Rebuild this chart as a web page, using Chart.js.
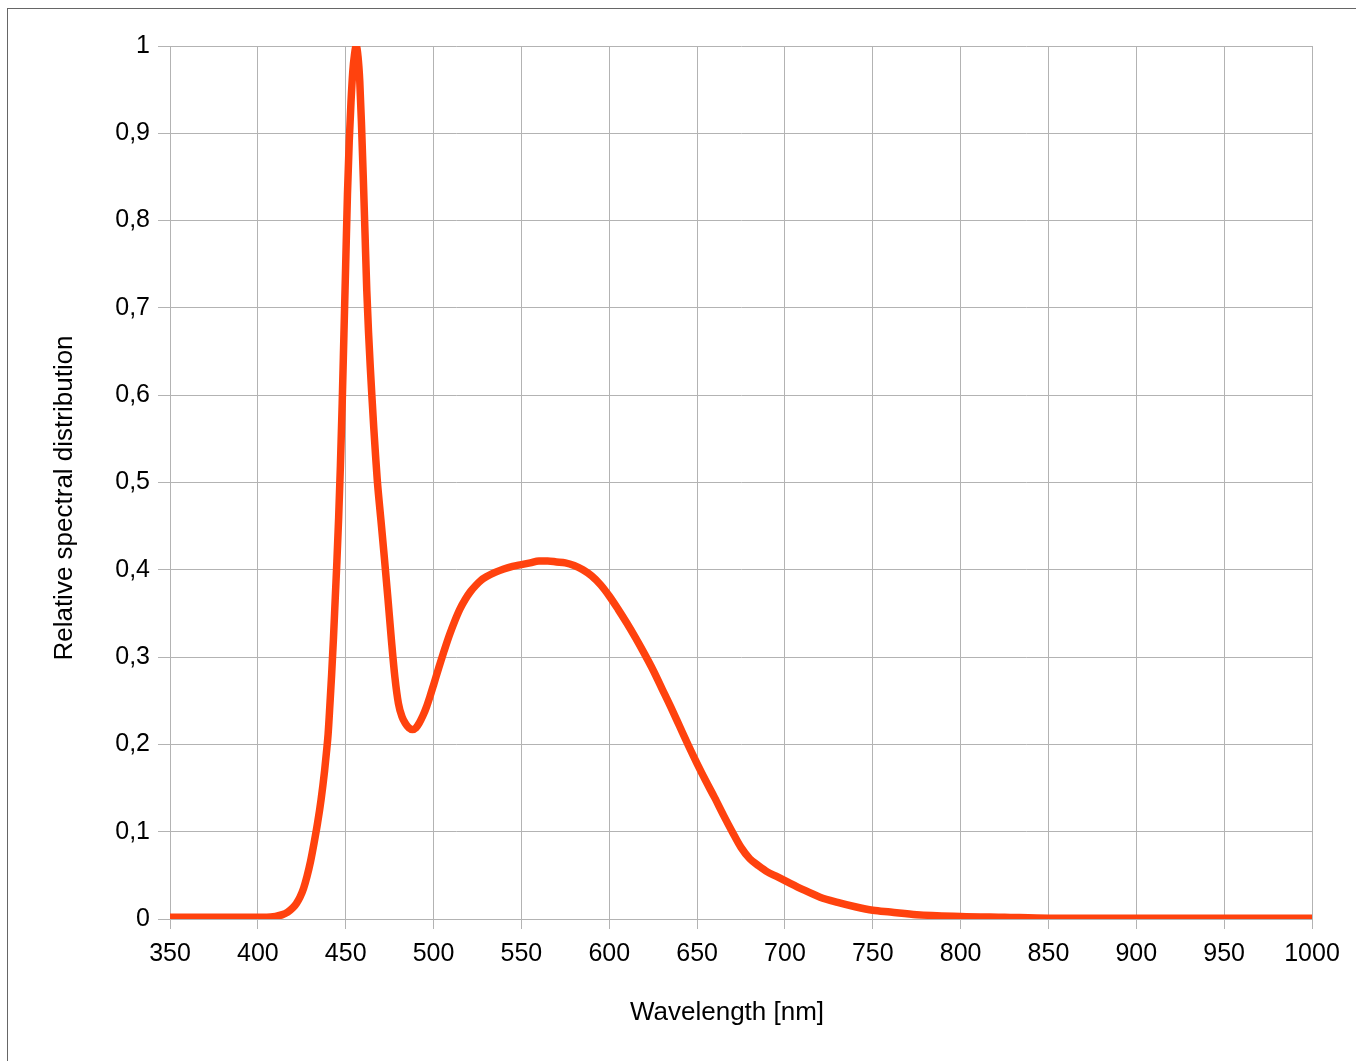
<!DOCTYPE html>
<html>
<head>
<meta charset="utf-8">
<script src="https://cdn.jsdelivr.net/npm/chart.js@4.4.1/dist/chart.umd.min.js"></script>
<style>
    html, body { margin: 0; padding: 0; background: #fff; overflow: hidden; }
    #wrap { position: relative; width: 1356px; height: 1061px; }
    #frame { position: absolute; left: 7px; top: 8px; width: 1400px; height: 1100px;
             border-left: 1px solid #666; border-top: 1px solid #666; }
    #chartSpd { position: absolute; left: 0; top: 0; }
</style>
</head>
<body>
<div id="wrap">
    <div id="frame"></div>
    <canvas id="chartSpd" width="1356" height="1061"></canvas>
</div>
<script>
// Valores (longitud de onda en nm, distribución relativa)
const wavelengths = [
    350, 360, 370, 380, 390, 400, 405, 410, 414, 417, 420, 422, 424, 426, 428, 430, 432, 434, 436, 438,
    439, 440, 441, 442, 443, 444, 445, 446, 447, 448, 449, 450, 451, 452, 453, 454, 455, 456, 457, 458,
    459, 460, 461, 462, 463, 464, 465, 466, 467, 468, 470, 472, 474, 476, 478, 480, 482, 484, 486, 488,
    490, 492, 494, 496, 498, 500, 503, 506, 509, 512, 515, 518, 521, 524, 527, 530, 535, 540, 545, 550,
    555, 560, 565, 570, 575, 580, 585, 590, 595, 600, 605, 610, 615, 620, 625, 630, 635, 640, 645,
    650, 655, 660, 665, 670, 675, 680, 685, 690, 695, 700, 710, 720, 730, 740, 750, 760, 775, 800,
    825, 850, 900, 950, 1000
];
const relativeValues = [
    0.002, 0.002, 0.002, 0.002, 0.002, 0.002, 0.002, 0.003, 0.005, 0.008, 0.013, 0.018, 0.025, 0.035, 0.049, 0.066, 0.087, 0.11, 0.137, 0.17,
    0.19, 0.212, 0.245, 0.28, 0.32, 0.365, 0.41, 0.46, 0.52, 0.59, 0.67, 0.75, 0.83, 0.89, 0.935, 0.97, 0.99, 1.0, 0.988, 0.96,
    0.91, 0.85, 0.785, 0.72, 0.672, 0.632, 0.596, 0.562, 0.531, 0.502, 0.458, 0.414, 0.368, 0.32, 0.277, 0.247, 0.232, 0.224, 0.219, 0.217,
    0.219, 0.225, 0.233, 0.243, 0.255, 0.268, 0.288, 0.307, 0.325, 0.341, 0.355, 0.366, 0.375, 0.382, 0.388, 0.392, 0.397, 0.401, 0.404, 0.406,
    0.408, 0.41, 0.41, 0.409, 0.408, 0.405, 0.4, 0.393, 0.383, 0.37, 0.355, 0.339, 0.322, 0.304, 0.285, 0.264, 0.243, 0.221, 0.199,
    0.178, 0.158, 0.139, 0.119, 0.1, 0.082, 0.069, 0.061, 0.054, 0.049, 0.044, 0.034, 0.025, 0.019, 0.014, 0.01, 0.008, 0.005, 0.003,
    0.002, 0.001, 0.001, 0.001, 0.001
];
const yTickLabels = ['0', '0,1', '0,2', '0,3', '0,4', '0,5', '0,6', '0,7', '0,8', '0,9', '1'];
const xTitle = 'Wavelength [nm]';
const yTitle = 'Relative spectral distribution';

const fontFamily = "'Liberation Sans', Arial, sans-serif";
const gridColor = '#b3b3b3';

// Títulos de ejes dibujados a mano para colocarlos como en el original
const axisTitles = {
    id: 'axisTitles',
    afterDraw(chart) {
        const c = chart.ctx;
        c.save();
        c.fillStyle = '#000';
        c.font = '26px ' + fontFamily;
        c.textAlign = 'center';
        c.textBaseline = 'middle';
        c.fillText(xTitle, 727, 1013);
        c.translate(65, 498);
        c.rotate(-Math.PI / 2);
        c.fillText(yTitle, 0, 0);
        c.restore();
    }
};

const ctx = document.getElementById('chartSpd');
new Chart(ctx, {
    type: 'line',
    data: {
        datasets: [{
            label: yTitle,
            data: wavelengths.map((w, i) => ({ x: w, y: relativeValues[i] })),
            borderColor: '#ff420e',
            backgroundColor: '#ff420e',
            borderWidth: 7.5,
            pointRadius: 0,
            cubicInterpolationMode: 'monotone',
            fill: false
        }]
    },
    options: {
        responsive: false,
        animation: false,
        layout: { padding: { top: 46, right: 44, left: 0, bottom: 0 } },
        plugins: {
            legend: { display: false },
            tooltip: { enabled: false }
        },
        scales: {
            x: {
                type: 'linear',
                min: 350,
                max: 1000,
                ticks: {
                    stepSize: 50,
                    autoSkip: false,
                    maxRotation: 0,
                    padding: 10,
                    color: '#000',
                    font: { family: fontFamily, size: 25 },
                    callback: v => String(v)
                },
                grid: { color: gridColor, tickLength: 10 },
                border: { color: gridColor },
                afterFit: s => { s.height = 142; }
            },
            y: {
                min: 0,
                max: 1,
                ticks: {
                    stepSize: 0.1,
                    padding: 8,
                    color: '#000',
                    font: { family: fontFamily, size: 25 },
                    callback: v => yTickLabels[Math.round(v * 10)]
                },
                grid: { color: gridColor, tickLength: 12 },
                border: { color: gridColor },
                afterFit: s => { s.width = 170; }
            }
        }
    },
    plugins: [axisTitles]
});
</script>
</body>
</html>
